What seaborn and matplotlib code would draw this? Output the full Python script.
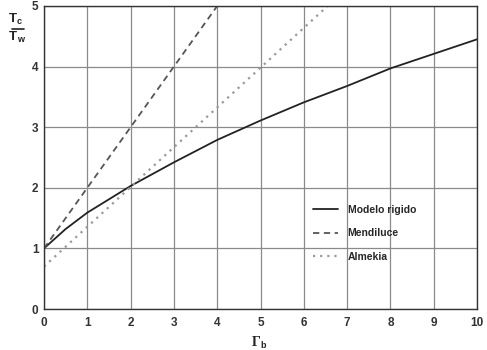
import matplotlib
matplotlib.use("Agg")
import matplotlib.pyplot as plt
import seaborn as sns
import pandas as pd
from matplotlib.lines import Line2D

# Data
rig_x = [0, 0.5, 1, 2, 3, 4, 5, 6, 7, 8, 9, 10]
rig_y = [1.0, 1.32, 1.59, 2.03, 2.42, 2.79, 3.11, 3.41, 3.68, 3.97, 4.21, 4.45]
men_x = [0, 4]
men_y = [1.0, 5.0]
alm_x = [0, 6.55]
alm_y = [0.70, 5.0]
labels = ["Modelo rigido", "Mendiluce", "Almekia"]
xticks = list(range(0, 11))
yticks = list(range(0, 6))

sns.set_style("white")
plt.rcParams['font.family'] = ['Liberation Sans', 'DejaVu Sans']
plt.rcParams['font.weight'] = 'bold'

fig = plt.figure(figsize=(4.87, 3.5), dpi=100)
ax = fig.add_axes([44/487, 1-309/350, 433/487, 303/350])

df_r = pd.DataFrame({"x": rig_x, "y": rig_y})
df_m = pd.DataFrame({"x": men_x, "y": men_y})
df_a = pd.DataFrame({"x": alm_x, "y": alm_y})

sns.lineplot(data=df_r, x="x", y="y", ax=ax, color="#222222", lw=1.3,
             label=labels[0])
sns.lineplot(data=df_m, x="x", y="y", ax=ax, color="#555555", lw=1.3,
             linestyle=(0, (3.5, 2.5)), label=labels[1])
sns.lineplot(data=df_a, x="x", y="y", ax=ax, color="#999999", lw=1.6,
             linestyle=(0, (1, 2.2)), label=labels[2])

ax.set_xlim(0, 10)
ax.set_ylim(0, 5)
ax.set_xticks(xticks)
ax.set_yticks(yticks)
ax.set_xticklabels([str(t) for t in xticks], fontsize=8.5, fontweight='bold', color='#333333')
ax.set_yticklabels([str(t) for t in yticks], fontsize=8.5, fontweight='bold', color='#333333')
ax.tick_params(axis='x', length=0, pad=6)
ax.tick_params(axis='y', length=0, pad=4)
ax.grid(True, color='#8a8a8a', lw=0.9)
for s in ax.spines.values():
    s.set_visible(True)
    s.set_color('#333333')
    s.set_linewidth(1.0)
ax.set_xlabel("")
ax.set_ylabel("")

leg = ax.legend(loc='center left', bbox_to_anchor=(0.6, 0.25), frameon=False,
                fontsize=7.5, handlelength=2.4, handletextpad=0.9,
                labelspacing=1.3)
for t in leg.get_texts():
    t.set_fontweight('bold')

# y label as a fraction T_c / T_w
col = '#222222'
fig.text(17/487, 1-19/350, "T", fontsize=9.5, ha='right', va='center', color=col, fontweight='bold')
fig.text(17/487, 1-22/350, "c", fontsize=6.5, ha='left', va='center', color=col, fontweight='bold')
fig.add_artist(Line2D([12/487, 24/487], [1-29/350, 1-29/350], color=col, lw=1.2))
fig.text(17/487, 1-37/350, "T", fontsize=9.5, ha='right', va='center', color=col, fontweight='bold')
fig.text(17/487, 1-40/350, "w", fontsize=6.5, ha='left', va='center', color=col, fontweight='bold')

# x label Gamma_b
fig.text(256/487, 1-343/350, "Γ", fontsize=10, ha='center', va='center',
         fontfamily='Liberation Serif', fontweight='bold', color=col)
fig.text(260.5/487, 1-346/350, "b", fontsize=6.5, ha='left', va='center',
         fontweight='bold', color=col)

fig.savefig("out.png", dpi=100)
